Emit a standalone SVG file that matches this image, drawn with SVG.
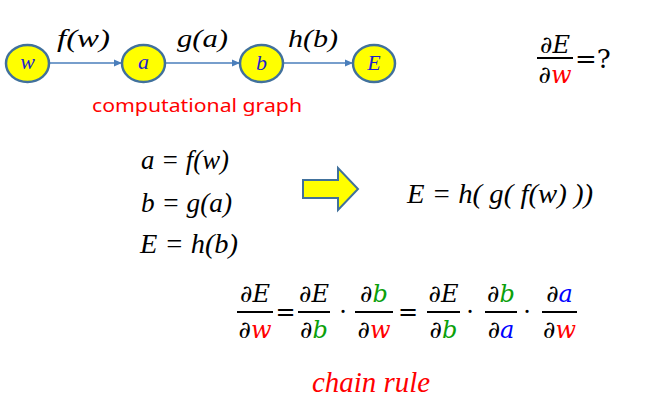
<svg xmlns="http://www.w3.org/2000/svg" width="656" height="413" viewBox="0 0 656 413">
<style>
.node{fill:#FFFF00;stroke:#41719C;stroke-width:2.5}
.nl{font-family:'Liberation Serif','Times New Roman',serif;font-style:italic;fill:#1F1FCC;text-anchor:middle}
.lab{font-family:'Liberation Serif','Times New Roman',serif;font-style:italic;font-size:26px;fill:#000}
.eq{font-family:'Liberation Serif','Times New Roman',serif;font-style:italic;font-size:27px;fill:#000}
.m{font-family:'DejaVu Serif',serif;font-size:24px;fill:#000;text-anchor:middle}
.mi{font-style:italic}
.r{fill:#FF0000}.g{fill:#0AA00A}.bl{fill:#0000FF}
.bar{stroke:#000;stroke-width:2}
.conn{stroke:#4A7EBB;stroke-width:1.5;fill:none;marker-end:url(#ah)}
</style>
<defs>
<marker id="ah" markerWidth="8" markerHeight="8" refX="7" refY="4" orient="auto" markerUnits="userSpaceOnUse">
<path d="M0,0.5 L8,4 L0,7.5 Z" fill="#4A7EBB"/>
</marker>
</defs>
<rect width="656" height="413" fill="#fff"/>
<g id="connectors">
<line class="conn" x1="49" y1="63" x2="121" y2="63"/>
<line class="conn" x1="165" y1="63" x2="239" y2="63"/>
<line class="conn" x1="283" y1="63" x2="352" y2="63"/>
</g>
<g id="node-w"><ellipse class="node" cx="27.5" cy="63.5" rx="21.5" ry="18.5"/><text class="nl" x="27.5" y="69" font-size="22">w</text></g>
<g id="node-a"><ellipse class="node" cx="143.5" cy="63.5" rx="21.5" ry="18.5"/><text class="nl" x="143.5" y="69" font-size="22">a</text></g>
<g id="node-b"><ellipse class="node" cx="261.5" cy="63.5" rx="21.5" ry="18.5"/><text class="nl" x="261.5" y="70" font-size="22">b</text></g>
<g id="node-E"><ellipse class="node" cx="374" cy="63.5" rx="21" ry="18.5"/><text class="nl" x="374" y="70" font-size="22">E</text></g>
<text class="lab" x="57" y="47" textLength="53" lengthAdjust="spacingAndGlyphs">f(w)</text>
<text class="lab" x="177" y="47" textLength="51" lengthAdjust="spacingAndGlyphs">g(a)</text>
<text class="lab" x="288" y="47" textLength="50" lengthAdjust="spacingAndGlyphs">h(b)</text>
<text x="92" y="112" font-family="'Noto Sans', sans-serif" font-size="18" fill="#FF0000" textLength="210" lengthAdjust="spacingAndGlyphs">computational graph</text>
<g id="question">
<text class="m" x="555" y="53">∂<tspan class="mi">E</tspan></text>
<line class="bar" x1="537" y1="58" x2="573" y2="58"/>
<text class="m" x="555" y="83">∂<tspan class="mi r">w</tspan></text>
<text x="575" y="68" font-family="'DejaVu Serif', serif" font-size="26" fill="#000">=?</text>
</g>
<g id="equations">
<text class="eq" x="141" y="169" textLength="88" lengthAdjust="spacingAndGlyphs">a = f(w)</text>
<text class="eq" x="141" y="212" textLength="91" lengthAdjust="spacingAndGlyphs">b = g(a)</text>
<text class="eq" x="140" y="253" textLength="98" lengthAdjust="spacingAndGlyphs">E = h(b)</text>
<text class="eq" x="407" y="203" textLength="186" lengthAdjust="spacingAndGlyphs">E = h( g( f(w) ))</text>
</g>
<g id="big-arrow">
<path d="M303,180 L338,180 L338,168 L358,189 L338,210 L338,198 L303,198 Z" fill="#FFFF00" stroke="#41719C" stroke-width="2"/>
</g>
<g id="chain">
<text class="m" x="255" y="302">∂<tspan class="mi">E</tspan></text>
<line class="bar" x1="237" y1="312" x2="273" y2="312"/>
<text class="m" x="255" y="338">∂<tspan class="mi r">w</tspan></text>
<text class="m" x="285.5" y="320">=</text>
<text class="m" x="314" y="302">∂<tspan class="mi">E</tspan></text>
<line class="bar" x1="298" y1="312" x2="330" y2="312"/>
<text class="m" x="314" y="338">∂<tspan class="mi g">b</tspan></text>
<text class="m" x="343" y="320">·</text>
<text class="m" x="374" y="302">∂<tspan class="mi g">b</tspan></text>
<line class="bar" x1="355" y1="312" x2="393" y2="312"/>
<text class="m" x="374" y="338">∂<tspan class="mi r">w</tspan></text>
<text class="m" x="408" y="320">=</text>
<text class="m" x="443.5" y="302">∂<tspan class="mi">E</tspan></text>
<line class="bar" x1="427" y1="312" x2="460" y2="312"/>
<text class="m" x="443.5" y="338">∂<tspan class="mi g">b</tspan></text>
<text class="m" x="470" y="320">·</text>
<text class="m" x="501" y="302">∂<tspan class="mi g">b</tspan></text>
<line class="bar" x1="485" y1="312" x2="517" y2="312"/>
<text class="m" x="501" y="338">∂<tspan class="mi bl">a</tspan></text>
<text class="m" x="527" y="320">·</text>
<text class="m" x="559.5" y="302">∂<tspan class="mi bl">a</tspan></text>
<line class="bar" x1="542" y1="312" x2="577" y2="312"/>
<text class="m" x="559.5" y="338">∂<tspan class="mi r">w</tspan></text>
</g>
<text x="312" y="392" font-family="'Liberation Serif', serif" font-style="italic" font-size="29" fill="#FF0000" textLength="118" lengthAdjust="spacingAndGlyphs">chain rule</text>
</svg>
